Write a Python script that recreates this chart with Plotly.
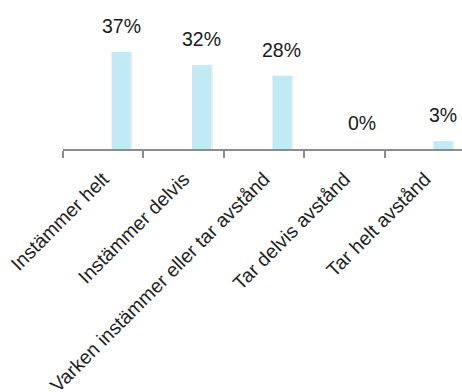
import plotly.graph_objects as go

categories = [
    "Instämmer helt",
    "Instämmer delvis",
    "Varken instämmer eller tar avstånd",
    "Tar delvis avstånd",
    "Tar helt avstånd",
]
values = [37, 32, 28, 0, 3]
value_labels = ["37%", "32%", "28%", "0%", "3%"]

BAR_WIDTH = 0.236
BAR_OFFSET = 0.104

fig = go.Figure()

# soft drop shadow behind each bar
fig.add_trace(go.Bar(
    x=categories, y=values, width=BAR_WIDTH, offset=BAR_OFFSET + 0.025,
    marker=dict(color="rgba(0,0,0,0.07)", line=dict(width=0)),
    hoverinfo="skip", showlegend=False,
))
fig.add_trace(go.Bar(
    x=categories, y=values, width=BAR_WIDTH, offset=BAR_OFFSET,
    marker=dict(color="#bfeaf6", line=dict(width=0)),
    showlegend=False,
))

for i, (v, lab) in enumerate(zip(values, value_labels)):
    fig.add_annotation(
        x=i + BAR_OFFSET + BAR_WIDTH / 2, y=v, text=lab,
        showarrow=False, yshift=26, yanchor="middle", xanchor="center",
        font=dict(family="Liberation Sans, Arial", size=19.5, color="#1a1a1a"),
    )

fig.update_layout(
    width=462, height=392,
    margin=dict(l=63, r=0, t=0, b=243),
    paper_bgcolor="white", plot_bgcolor="white",
    barmode="overlay",
    xaxis=dict(
        type="category",
        range=[-0.5, 4.46],
        automargin=False,
        tickson="boundaries",
        tickangle=-45,
        ticklabelstandoff=9,
        tickfont=dict(family="Liberation Sans, Arial", size=19.5, color="#1f1f1f"),
        showline=True, linecolor="#8c8c8c", linewidth=2,
        ticks="outside", ticklen=7, tickwidth=1.5, tickcolor="#8c8c8c",
        showgrid=False, zeroline=False,
    ),
    yaxis=dict(
        range=[0, 56.9], visible=False, showgrid=False, zeroline=False,
    ),
)

fig.write_html("out.html")
